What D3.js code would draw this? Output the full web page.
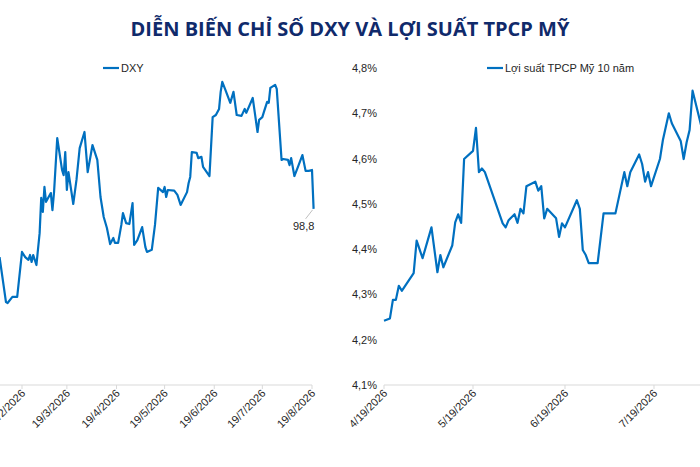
<!DOCTYPE html>
<html>
<head>
<meta charset="utf-8">
<script src="https://cdn.jsdelivr.net/npm/d3@7"></script>
<style>
    body { margin: 0; background: #fff; }
    svg { display: block; }
</style>
</head>
<body>
<div id="chart"></div>
<script>
// DXY index (left panel)
const dxyDates = [
    "2026-02-05", "2026-02-09", "2026-02-10", "2026-02-13", "2026-02-16", "2026-02-19", "2026-02-21", "2026-02-23",
    "2026-02-24", "2026-02-25", "2026-02-26", "2026-02-28", "2026-03-02", "2026-03-03", "2026-03-04", "2026-03-05",
    "2026-03-06", "2026-03-09", "2026-03-10", "2026-03-11", "2026-03-13", "2026-03-16", "2026-03-17", "2026-03-18",
    "2026-03-19", "2026-03-20", "2026-03-23", "2026-03-25", "2026-03-27", "2026-03-30", "2026-04-01", "2026-04-04",
    "2026-04-07", "2026-04-09", "2026-04-11", "2026-04-13", "2026-04-15", "2026-04-17", "2026-04-18", "2026-04-20",
    "2026-04-22", "2026-04-23", "2026-04-25", "2026-04-27", "2026-04-29", "2026-04-30", "2026-05-02", "2026-05-05",
    "2026-05-07", "2026-05-08", "2026-05-11", "2026-05-13", "2026-05-15", "2026-05-18", "2026-05-19", "2026-05-20",
    "2026-05-21", "2026-05-25", "2026-05-27", "2026-05-29", "2026-06-02", "2026-06-03", "2026-06-04", "2026-06-05",
    "2026-06-08", "2026-06-09", "2026-06-11", "2026-06-12", "2026-06-16", "2026-06-18", "2026-06-20", "2026-06-22",
    "2026-06-23", "2026-06-24", "2026-06-26", "2026-06-29", "2026-07-01", "2026-07-03", "2026-07-06", "2026-07-08",
    "2026-07-09", "2026-07-13", "2026-07-16", "2026-07-17", "2026-07-19", "2026-07-20", "2026-07-22", "2026-07-23",
    "2026-07-24", "2026-07-27", "2026-07-28", "2026-07-31", "2026-08-01", "2026-08-04", "2026-08-05", "2026-08-06",
    "2026-08-08", "2026-08-10", "2026-08-13", "2026-08-15", "2026-08-17", "2026-08-19", "2026-08-20"
];
const dxyValues = [
    97.21, 95.73, 95.70, 95.90, 95.90, 97.38, 97.21, 97.12,
    97.28, 97.05, 97.28, 96.95, 98.00, 99.16, 98.70, 99.52,
    99.03, 99.32, 98.76, 99.35, 101.13, 100.08, 99.91, 100.67,
    99.42, 100.01, 98.96, 99.75, 100.80, 101.33, 100.01, 100.90,
    100.41, 99.19, 98.53, 98.17, 97.64, 97.84, 97.68, 97.68,
    98.27, 98.66, 98.33, 98.30, 98.99, 97.61, 97.77, 98.20,
    97.54, 97.38, 97.45, 98.27, 99.49, 99.35, 99.52, 99.19,
    99.42, 99.40, 99.26, 98.93, 99.35, 99.65, 99.85, 100.67,
    100.64, 100.47, 100.51, 100.18, 99.88, 101.82, 101.89, 102.09,
    102.65, 102.98, 102.71, 102.29, 102.65, 101.89, 101.86, 102.09,
    101.96, 102.45, 101.33, 101.73, 101.82, 101.99, 102.32, 102.29,
    102.78, 102.88, 102.75, 100.41, 100.44, 100.41, 100.24, 100.47,
    99.88, 100.15, 100.57, 100.05, 100.05, 100.08, 98.80
];
const dxyTicks = ["2026-02-19", "2026-03-19", "2026-04-19", "2026-05-19", "2026-06-19", "2026-07-19", "2026-08-19"];
const dxyTickLabels = ["19/2/2026", "19/3/2026", "19/4/2026", "19/5/2026", "19/6/2026", "19/7/2026", "19/8/2026"];

// US 10-year treasury yield, % (right panel)
const yieldDates = [
    "2026-04-19", "2026-04-21", "2026-04-22", "2026-04-23", "2026-04-24", "2026-04-25", "2026-04-29", "2026-04-30",
    "2026-05-02", "2026-05-05", "2026-05-07", "2026-05-08", "2026-05-09", "2026-05-12", "2026-05-13", "2026-05-14",
    "2026-05-15", "2026-05-16", "2026-05-19", "2026-05-20", "2026-05-21", "2026-05-22", "2026-05-23", "2026-05-29",
    "2026-05-30", "2026-05-31", "2026-06-02", "2026-06-03", "2026-06-04", "2026-06-05", "2026-06-06", "2026-06-09",
    "2026-06-10", "2026-06-11", "2026-06-12", "2026-06-13", "2026-06-16", "2026-06-17", "2026-06-18", "2026-06-19",
    "2026-06-23", "2026-06-24", "2026-06-25", "2026-06-26", "2026-06-27", "2026-06-30", "2026-07-02", "2026-07-06",
    "2026-07-09", "2026-07-10", "2026-07-11", "2026-07-14", "2026-07-15", "2026-07-16", "2026-07-17", "2026-07-18",
    "2026-07-21", "2026-07-22", "2026-07-24", "2026-07-25", "2026-07-28", "2026-07-29", "2026-07-30", "2026-07-31",
    "2026-08-01", "2026-08-04", "2026-08-05"
];
const yieldValues = [
    4.242, 4.247, 4.288, 4.288, 4.319, 4.308, 4.347, 4.419,
    4.380, 4.448, 4.349, 4.387, 4.360, 4.408, 4.459, 4.477,
    4.458, 4.599, 4.617, 4.668, 4.570, 4.578, 4.570, 4.457,
    4.448, 4.464, 4.477, 4.458, 4.489, 4.479, 4.539, 4.549,
    4.529, 4.539, 4.468, 4.489, 4.468, 4.427, 4.457, 4.448,
    4.508, 4.489, 4.398, 4.387, 4.369, 4.369, 4.479, 4.479,
    4.570, 4.539, 4.570, 4.609, 4.588, 4.549, 4.570, 4.539,
    4.599, 4.641, 4.700, 4.678, 4.639, 4.599, 4.636, 4.663,
    4.750, 4.670, 4.660
];
const yieldTicks = ["2026-04-19", "2026-05-19", "2026-06-19", "2026-07-19"];
const yieldTickLabels = ["4/19/2026", "5/19/2026", "6/19/2026", "7/19/2026"];
const yieldAxisValues = [4.1, 4.2, 4.3, 4.4, 4.5, 4.6, 4.7, 4.8];
const yieldAxisLabels = ["4,1%", "4,2%", "4,3%", "4,4%", "4,5%", "4,6%", "4,7%", "4,8%"];

document.addEventListener("DOMContentLoaded", function () {
    const width = 700, height = 467;
    const parse = d3.utcParse("%Y-%m-%d");
    const blue = "#0070c0";
    const axisGrey = "#d9d9d9";
    const textColor = "#262626";
    const baseY = 385;

    const svg = d3.select("#chart")
        .append("svg")
        .attr("width", width)
        .attr("height", height)
        .style("font-family", "'Liberation Sans', Arial, sans-serif");

    svg.append("rect").attr("width", width).attr("height", height).attr("fill", "#fff");

    // Title
    svg.append("text")
        .attr("x", 350).attr("y", 36)
        .attr("text-anchor", "middle")
        .attr("font-family", "'Open Sans', sans-serif")
        .attr("font-weight", 700)
        .attr("font-size", "20px")
        .attr("fill", "#102a6b")
        .text("DIỄN BIẾN CHỈ SỐ DXY VÀ LỢI SUẤT TPCP MỸ");

    // Draw one panel: axis line, rotated date labels, the line and its legend
    function drawPanel(cfg) {
        const dates = cfg.dates.map(parse);
        const ticks = cfg.ticks.map(parse);
        const g = svg.append("g");

        // bottom axis line
        g.append("line")
            .attr("x1", cfg.axisX[0]).attr("x2", cfg.axisX[1])
            .attr("y1", baseY).attr("y2", baseY)
            .attr("stroke", axisGrey).attr("stroke-width", 1);

        g.selectAll(".tick")
            .data(ticks)
            .enter()
            .append("line")
            .attr("x1", d => cfg.x(d)).attr("x2", d => cfg.x(d))
            .attr("y1", baseY).attr("y2", baseY + 4)
            .attr("stroke", axisGrey);

        g.selectAll(".tlabel")
            .data(ticks)
            .enter()
            .append("text")
            .attr("transform", d => `translate(${cfg.x(d) + 4},${baseY + 9}) rotate(-45)`)
            .attr("text-anchor", "end")
            .attr("font-size", "11px")
            .attr("fill", textColor)
            .text((d, i) => cfg.tickLabels[i]);

        const line = d3.line()
            .x(d => cfg.x(d[0]))
            .y(d => cfg.y(d[1]));

        g.append("path")
            .datum(dates.map((d, i) => [d, cfg.values[i]]))
            .attr("d", line)
            .attr("fill", "none")
            .attr("stroke", blue)
            .attr("stroke-width", 2.2)
            .attr("stroke-linejoin", "round");

        // legend
        g.append("line")
            .attr("x1", cfg.legend[0]).attr("x2", cfg.legend[0] + 16)
            .attr("y1", 68).attr("y2", 68)
            .attr("stroke", blue).attr("stroke-width", 2.2);
        g.append("text")
            .attr("x", cfg.legend[0] + 18).attr("y", 72)
            .attr("font-size", "11px")
            .attr("fill", textColor)
            .text(cfg.legend[1]);

        return { g, dates };
    }

    // Left panel: DXY
    const xDxy = d3.scaleUtc()
        .domain([parse(dxyTicks[0]), parse(dxyTicks[dxyTicks.length - 1])])
        .range([22, 312]);
    const yDxy = d3.scaleLinear().domain([93, 103.7]).range([baseY, 60]);

    const left = drawPanel({
        dates: dxyDates, values: dxyValues, x: xDxy, y: yDxy,
        ticks: dxyTicks, tickLabels: dxyTickLabels,
        axisX: [0, xDxy(parse(dxyTicks[dxyTicks.length - 1]))],
        legend: [103, "DXY"]
    });

    // last value label with leader line
    const lastDate = left.dates[left.dates.length - 1];
    const lastVal = dxyValues[dxyValues.length - 1];
    left.g.append("line")
        .attr("x1", xDxy(lastDate) - 1).attr("y1", yDxy(lastVal) + 1)
        .attr("x2", xDxy(lastDate) - 8).attr("y2", yDxy(lastVal) + 10)
        .attr("stroke", "#bfbfbf").attr("stroke-width", 1);
    left.g.append("text")
        .attr("x", xDxy(lastDate) - 10).attr("y", yDxy(lastVal) + 21)
        .attr("text-anchor", "middle")
        .attr("font-size", "11px")
        .attr("fill", textColor)
        .text(String(lastVal.toFixed(1)).replace(".", ","));

    // Right panel: 10y yield
    const xYield = d3.scaleUtc()
        .domain([parse(yieldTicks[0]), parse(yieldTicks[yieldTicks.length - 1])])
        .range([384, 654]);
    const yYield = d3.scaleLinear().domain([4.1, 4.8]).range([baseY, 68]);

    drawPanel({
        dates: yieldDates, values: yieldValues, x: xYield, y: yYield,
        ticks: yieldTicks, tickLabels: yieldTickLabels,
        axisX: [384, width],
        legend: [487, "Lợi suất TPCP Mỹ 10 năm"]
    });

    svg.append("g")
        .selectAll("text")
        .data(yieldAxisValues)
        .enter()
        .append("text")
        .attr("x", 377)
        .attr("y", d => yYield(d) + 4)
        .attr("text-anchor", "end")
        .attr("font-size", "11px")
        .attr("fill", textColor)
        .text((d, i) => yieldAxisLabels[i]);
});
</script>
</body>
</html>
